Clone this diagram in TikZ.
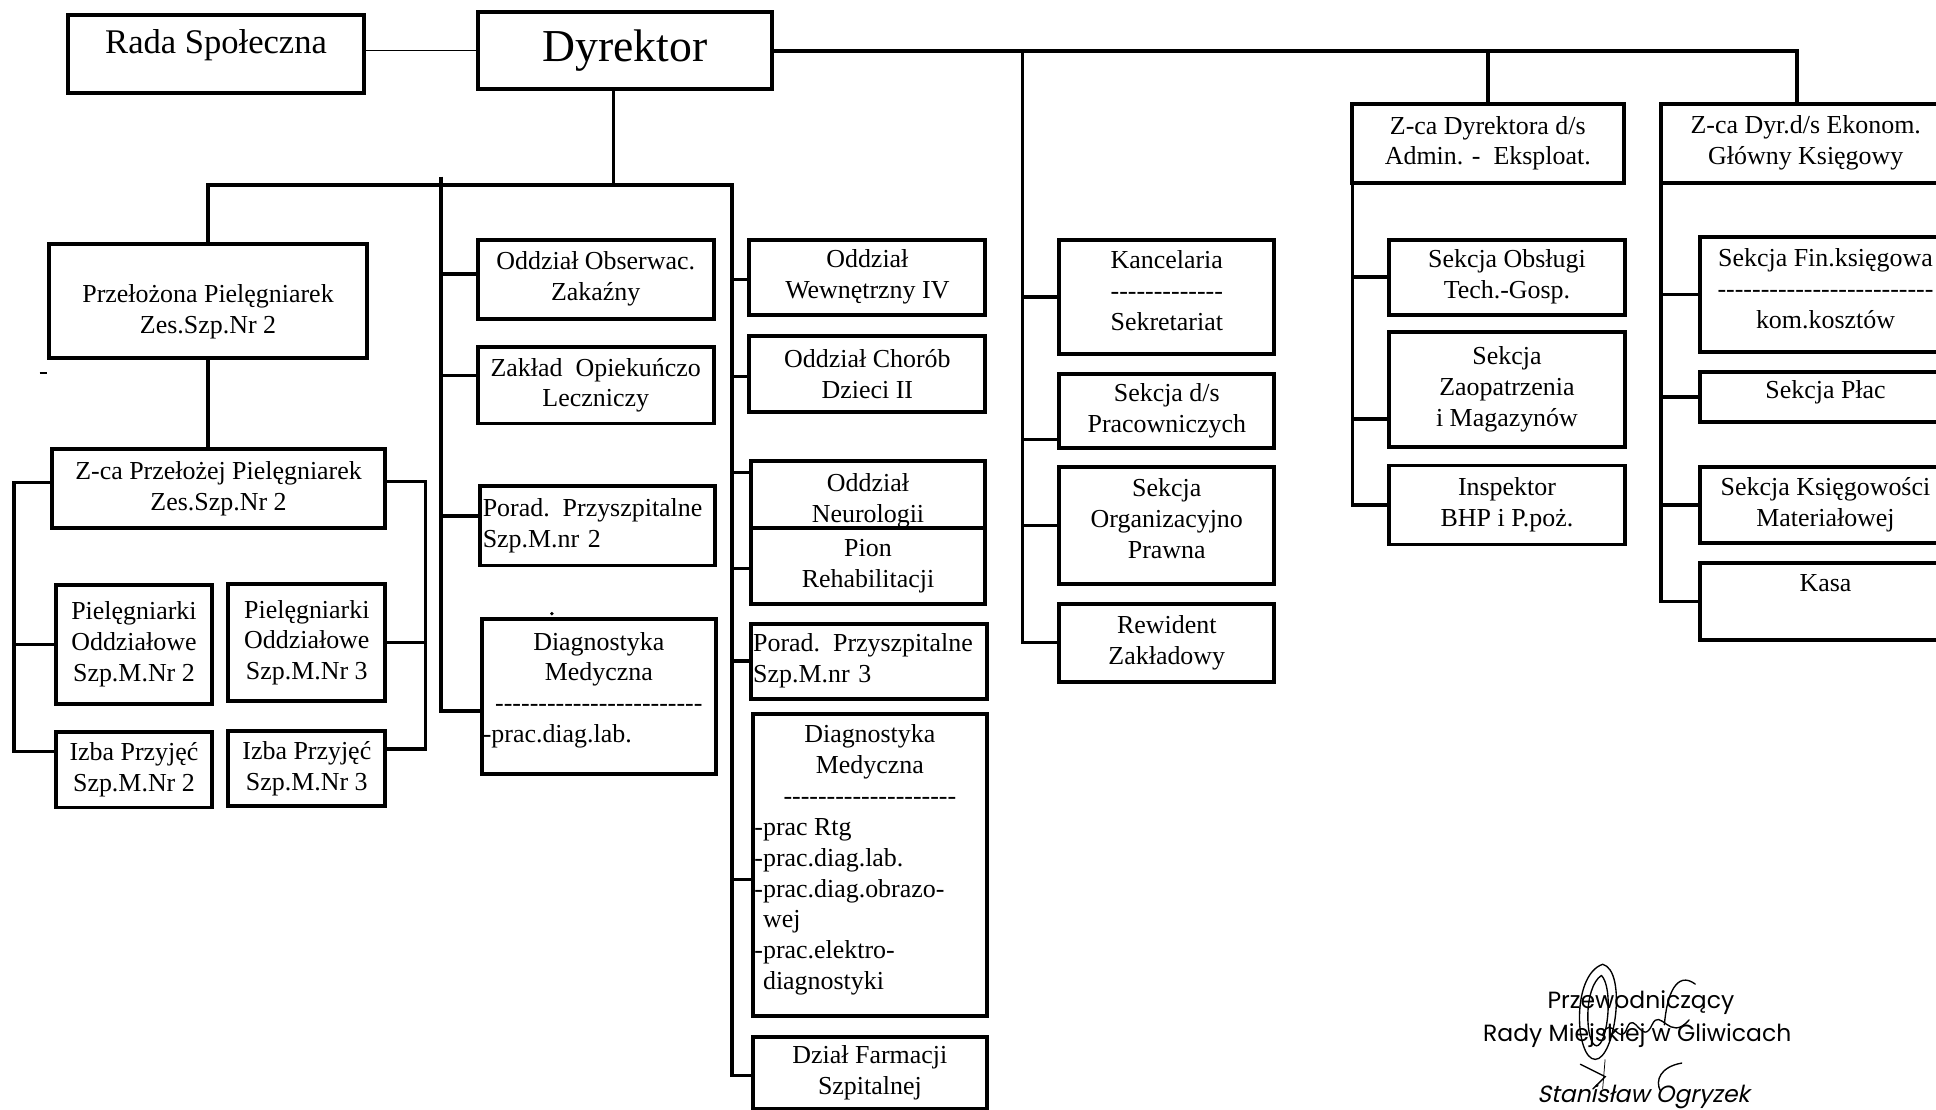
\documentclass[tikz,border=0pt]{standalone}
\usepackage{fontspec}
\setmainfont{Liberation Serif}
\newfontfamily\sigfont{Poppins}
\newfontfamily\sigslant{Poppins}[FakeSlant=0.22]
\usetikzlibrary{calc,positioning}
\setlength\parindent{0pt}
\newcommand\lift[2]{\raisebox{#1}[\height][\depth]{#2}}
\newcommand\ml[2]{\lift{#1}{\begin{tabular}{@{}c@{}}#2\end{tabular}}}
\newcommand\dashrow[1]{\foreach\k in {1,...,#1}{\mbox{-}}}
\tikzset{
  orgbox/.style={draw, line width=3.2pt, inner sep=1pt, align=center, font=\fontsize{21}{25}\selectfont},
  dims/.style 2 args={minimum width=#1, minimum height=#2},
  conn/.style={line width=2.8pt},
  trunk/.style={line width=3.4pt},
  sig/.style={line width=1.1pt, line cap=round}
}

\begin{document}
\begin{tikzpicture}[x=1pt, y=-1pt]
\useasboundingbox (0,0) rectangle (1568,899);
\fill[white] (0,0) rectangle (1568,899);
\clip (0,0) rectangle (1568,899);

% top
\node[orgbox, dims={240}{63}, font=\fontsize{28}{32}\selectfont] (rada) at (175,43.5) {\lift{7pt}{Rada Społeczna}};
\node[orgbox, dims={238}{62}, font=\fontsize{37}{40}\selectfont] (dyr) at (506,41) {Dyrektor};
\node[orgbox, dims={220}{64}] (adm) at (1205,116) {Z-ca Dyrektora d/s\\Admin. - \ Eksploat.};
\node[orgbox, dims={235}{64}] (ekon) at (1462.5,116) {Z-ca Dyr.d/s Ekonom.\\Główny Księgowy};

% nurses
\node[orgbox, dims={257}{92}] (przel) at (168.5,244) {\ml{-8.5pt}{Przełożona Pielęgniarek\\Zes.Szp.Nr 2}};
\node[orgbox, dims={270}{64}] (zprz) at (177,396) {Z-ca Przełożej Pielęgniarek\\Zes.Szp.Nr 2};
\node[orgbox, dims={127}{96}] (piel2) at (108.5,522) {Pielęgniarki\\Oddziałowe\\Szp.M.Nr 2};
\node[orgbox, dims={127}{95}] (piel3) at (248.5,520.5) {Pielęgniarki\\Oddziałowe\\Szp.M.Nr 3};
\node[orgbox, dims={127}{61}] (izba2) at (108.5,623.5) {Izba Przyjęć\\Szp.M.Nr 2};
\node[orgbox, dims={127}{61}] (izba3) at (248.5,622.5) {Izba Przyjęć\\Szp.M.Nr 3};

% second column
\node[orgbox, dims={191}{64}] (obs) at (482.5,226) {Oddział Obserwac.\\Zakaźny};
\node[orgbox, dims={191}{62}] (zol) at (482.5,312) {Zakład \ Opiekuńczo\\Leczniczy};
\node[orgbox, dims={190}{64}, text width=186, inner xsep=2pt, align=left] (por2) at (484,426) {Porad. Przyszpitalne\\Szp.M.nr 2};
\node[orgbox, dims={190}{126}] (diag2) at (485,564)
  {\lift{5pt}{\parbox{188pt}{\centering Diagnostyka\\Medyczna\\\dashrow{24}\par\raggedright -prac.diag.lab.}}};

% third column
\node[orgbox, dims={191}{61}] (wew) at (702.5,224.5) {Oddział\\Wewnętrzny IV};
\node[orgbox, dims={191}{62}] (chor) at (702.5,303) {Oddział Chorób\\Dzieci II};
\node[orgbox, dims={190}{55}] (neur) at (703,400.5) {\ml{-5pt}{Oddział\\Neurologii}};
\node[orgbox, dims={190}{61}] (pion) at (703,458.5) {Pion\\Rehabilitacji};
\node[orgbox, dims={191}{61}, text width=187, inner xsep=2pt, align=left] (por3) at (703.5,535.5) {Porad. Przyszpitalne\\Szp.M.nr 3};
\node[orgbox, dims={189}{245}] (diag3) at (704.5,700.5)
  {\lift{4pt}{\parbox{187pt}{\centering Diagnostyka\\Medyczna\\\dashrow{20}\par\raggedright -prac Rtg\\-prac.diag.lab.\\-prac.diag.obrazo-\\\phantom{-}wej\\-prac.elektro-\\\phantom{-}diagnostyki}}};
\node[orgbox, dims={189}{58}] (farm) at (704.5,869) {Dział Farmacji\\Szpitalnej};

% fourth column
\node[orgbox, dims={174}{93}] (kanc) at (945,240.5) {\ml{3pt}{Kancelaria\\\dashrow{13}\\Sekretariat}};
\node[orgbox, dims={174}{60}] (prac) at (945,333) {Sekcja d/s\\Pracowniczych};
\node[orgbox, dims={174}{95}] (org) at (945,425.5) {\ml{3.5pt}{Sekcja\\Organizacyjno\\Prawna}};
\node[orgbox, dims={174}{63}] (rew) at (945,520.5) {Rewident\\Zakładowy};

% admin
\node[orgbox, dims={191}{61}] (obsl) at (1220.5,224.5) {Sekcja Obsługi\\Tech.-Gosp.};
\node[orgbox, dims={191}{93}] (zaop) at (1220.5,315.5) {Sekcja\\Zaopatrzenia\\i Magazynów};
\node[orgbox, dims={191}{64}] (insp) at (1220.5,409) {Inspektor\\BHP i P.poż.};

% economy
\node[orgbox, dims={203}{93}] (fin) at (1478.5,238.5) {\ml{2.5pt}{Sekcja Fin.księgowa\\\dashrow{25}\\kom.kosztów}};
\node[orgbox, dims={203}{41}] (plac) at (1478.5,321.5) {\lift{4pt}{Sekcja Płac}};
\node[orgbox, dims={203}{62}] (ksieg) at (1478.5,409) {Sekcja Księgowości\\Materiałowej};
\node[orgbox, dims={203}{62}] (kasa) at (1478.5,487) {\lift{15pt}{Kasa}};

\coordinate (k2) at (357,143);
\coordinate (k3) at (593,150);
\coordinate (k4) at (828,41);
\coordinate (k5) at ([xshift=2pt]adm.south west);
\coordinate (k6) at ([xshift=2pt]ekon.south west);

\draw[line width=1.4pt] (rada.east |- dyr.west) -- (dyr.west);
\draw[trunk] (dyr.east) -| ([xshift=-7pt]ekon.north);
\draw[conn] (adm.north) -- (adm.north |- dyr.east);
\draw[conn] ([xshift=-9pt]dyr.south) -- ([xshift=-9pt]dyr.south |- k3);
\draw[conn] (przel.north) |- (k3) |- ([yshift=-2pt]farm.west);
\draw[conn] (przel.south) -- (przel.south |- zprz.north);

\draw[conn] ([yshift=5pt]zprz.west) -- ++(-29,0) |- ([yshift=15pt]izba2.west);
\draw[conn] (piel2.west) -- ++(-32,0);
\draw[conn] ([yshift=6pt]zprz.east) -- ++(31,0) |- ([yshift=16pt]izba3.east);
\draw[conn] (piel3.east) -- ++(31,0);

\draw[conn] (k2) |- ([yshift=-12pt]diag2.west);
\draw[conn] ([yshift=4pt]obs.west) -| (k2);
\draw[conn] ([yshift=8pt]zol.west) -| (k2);
\draw[conn] ([yshift=8pt]por2.west) -| (k2);

\draw[conn] ([yshift=-2pt]wew.west) -| (k3);
\draw[conn] ([yshift=-2pt]chor.west) -| (k3);
\draw[conn] ([yshift=18pt]neur.west) -| (k3);
\draw[conn] ([yshift=-2pt]pion.west) -| (k3);
\draw[conn] (por3.west) -| (k3);
\draw[conn] ([yshift=-12pt]diag3.west) -| (k3);

\draw[conn] (k4) |- (rew.west);
\draw[conn] (kanc.west) -| (k4);
\draw[conn] ([yshift=-23pt]prac.west) -| (k4);
\draw[conn] (org.west) -| (k4);

\draw[conn] (k5) |- (insp.west);
\draw[conn] (obsl.west) -| (k5);
\draw[conn] ([yshift=-24pt]zaop.west) -| (k5);

\draw[conn] (k6) |- (kasa.west);
\draw[conn] (fin.west) -| (k6);
\draw[conn] (plac.west) -| (k6);
\draw[conn] (ksieg.west) -| (k6);

% specks of the scan
\draw[line width=2pt] (32,302) -- (38,302);
\fill (447,497) circle (1.5);

% signature
\node[font=\sigfont\fontsize{19}{22}\selectfont, inner sep=0] (sig1) at (1329,812) {Przewodniczący};
\node[font=\sigfont\fontsize{19}{22}\selectfont, inner sep=0] (sig2) at (1326,839) {Rady Miejskiej w Gliwicach};
\node[font=\sigslant\fontsize{19}{22}\selectfont, inner sep=0] (sig3) at (1331,888) {Stanisław Ogryzek};
\draw[sig] (1298,781) .. controls (1272,790) and (1276,858) .. (1292,858) .. controls (1308,858) and (1318,786) .. (1298,781);
\draw[sig] (1297,790) .. controls (1282,800) and (1284,846) .. (1293,847) .. controls (1302,847) and (1307,800) .. (1297,790);
\draw[sig] (1298,838) .. controls (1305,820) and (1312,850) .. (1318,832) .. controls (1324,818) and (1330,848) .. (1338,830) .. controls (1345,815) and (1352,845) .. (1368,826);
\draw[sig] (1373,797) .. controls (1358,786) and (1350,805) .. (1348,830);
\draw[sig] (1280,862) -- (1300,872) -- (1290,882);
\draw[sig] (1362,861) .. controls (1345,864) and (1340,875) .. (1345,884);
\draw[line width=0.6pt] (1300,858) -- (1298,882);
\end{tikzpicture}
\end{document}
